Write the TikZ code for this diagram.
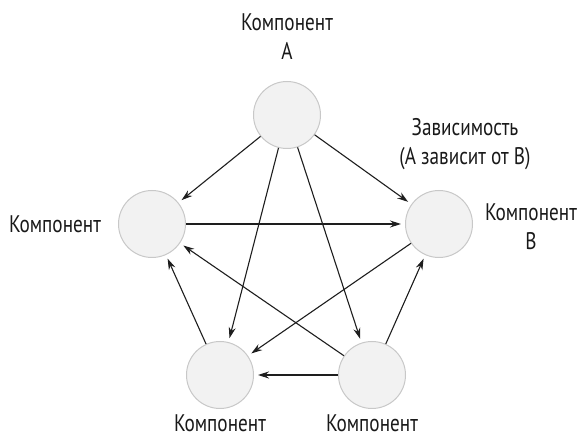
\documentclass[tikz,border=0pt]{standalone}
\usepackage{fontspec}
\newfontfamily\labfont{PT Sans}[FakeStretch=0.8]
\usetikzlibrary{arrows.meta}
\definecolor{circfill}{HTML}{F2F2F2}
\definecolor{circline}{HTML}{C8C8C8}
\definecolor{edgecol}{HTML}{1E1E1E}
\begin{document}
\begin{tikzpicture}[x=1pt,y=-1pt,
  comp/.style={circle,draw=circline,fill=circfill,line width=1pt,minimum size=67pt,inner sep=0pt},
  dep/.style={draw=edgecol,line width=1.1pt,-{Stealth[length=11pt,width=7pt]},shorten >=4pt},
  lab/.style={font=\labfont\fontsize{24}{29}\selectfont,align=center,inner sep=0pt,text=black!90}]
\useasboundingbox (0,0) rectangle (579,435);
\node[comp] (A) at (287,115) {};
\node[comp] (L) at (152,224) {};
\node[comp] (B) at (439,224) {};
\node[comp] (BL) at (220,375) {};
\node[comp] (BR) at (372,375) {};
\node[lab,anchor=base] (tA) at (287,60) {Компонент\\А};
\node[lab,anchor=base] (tL) at (55,233) {Компонент};
\node[lab,anchor=base] (tB) at (531,250) {Компонент\\В};
\node[lab,anchor=base] (tD) at (465,165) {Зависимость\\(А зависит от В)};
\node[lab,anchor=base] (tBL) at (220,432) {Компонент};
\node[lab,anchor=base] (tBR) at (372,432) {Компонент};
\draw[dep] (A) -- (L);
\draw[dep] (A) -- (B);
\draw[dep] (A) -- (BL);
\draw[dep] (A) -- (BR);
\draw[dep] (L) -- (B);
\draw[dep] (B) -- (BL);
\draw[dep] (BR) -- (L);
\draw[dep] (BL) -- (L);
\draw[dep] (BR) -- (BL);
\draw[dep] (BR) -- (B);
\end{tikzpicture}
\end{document}
